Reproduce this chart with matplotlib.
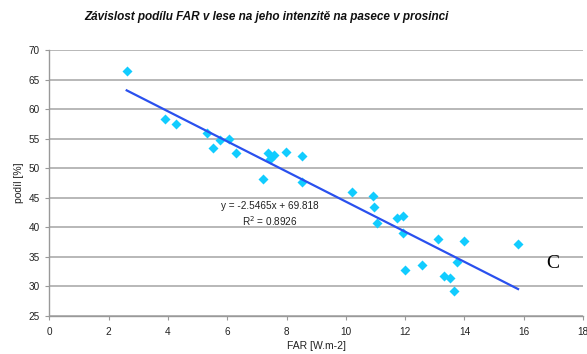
import matplotlib
matplotlib.use("Agg")
import matplotlib.pyplot as plt
import numpy as np

far = [2.61, 3.91, 4.27, 5.32, 5.53, 5.75, 6.07, 6.28, 7.2, 7.36, 7.44, 7.58,
       7.98, 8.51, 8.51, 10.2, 10.91, 10.95, 11.04, 11.74, 11.94, 11.92, 11.99,
       12.58, 13.11, 13.3, 13.53, 13.64, 13.75, 14.0, 15.81]
podil = [66.5, 58.3, 57.4, 56.0, 53.4, 54.7, 54.9, 52.6, 48.1, 52.5, 51.5, 52.3,
         52.7, 52.1, 47.7, 46.0, 45.3, 43.4, 40.8, 41.6, 42.0, 39.1, 32.8,
         33.6, 38.0, 31.7, 31.5, 29.3, 34.1, 37.7, 37.1]

slope, intercept = -2.5465, 69.818
x_ticks = [0, 2, 4, 6, 8, 10, 12, 14, 16, 18]
y_ticks = [25, 30, 35, 40, 45, 50, 55, 60, 65, 70]

plt.rcParams['font.family'] = ['Liberation Sans', 'DejaVu Sans']

fig = plt.figure(figsize=(5.87, 3.54), dpi=100)
ax = fig.add_axes([49.3 / 587, 1 - 316 / 354, (583 - 49.3) / 587, (316 - 50) / 354])

ax.set_xlim(0, 18)
ax.set_ylim(25, 70)
ax.set_xticks(x_ticks)
ax.set_yticks(y_ticks)
ax.tick_params(labelsize=7.2, length=3, width=0.8, colors="#999999",
               labelcolor="#222222")
ax.tick_params(axis="y", pad=4)
ax.tick_params(axis="x", pad=5)

ax.yaxis.grid(True, color="#ababab", linewidth=1.2, zorder=0)
for s in ["top", "right"]:
    ax.spines[s].set_visible(False)
for s in ["left", "bottom"]:
    ax.spines[s].set_color("#999999")
    ax.spines[s].set_linewidth(1.0)

ax.scatter(far, podil, marker="D", s=26, color="#11ccff", linewidths=0, zorder=3)

xl = np.array([min(far), max(far)])
ax.plot(xl, slope * xl + intercept, color="#2a50ee", linewidth=1.6, zorder=4)

ax.text(7.45, 43.65, "y = -2.5465x + 69.818", fontsize=7.2, ha="center",
        va="center", color="#222222", zorder=5)
ax.text(7.45, 41.1, "R$^2$ = 0.8926", fontsize=7.2, ha="center", va="center",
        color="#222222", zorder=5)

ax.set_xlabel("FAR [W.m-2]", fontsize=7.5, color="#222222", labelpad=3)
ax.set_ylabel("podíl [%]", fontsize=7.5, color="#222222", labelpad=3)

fig.text(266 / 587, 1 - 17 / 354, "Závislost podílu FAR v lese na jeho intenzitě na pasece v prosinci",
         fontsize=8.5, fontweight="bold", style="italic", ha="center", va="center",
         color="#111111")
fig.text(553 / 587, 1 - 263 / 354, "C", fontsize=14, family="Liberation Serif",
         ha="center", va="center", color="black")

fig.savefig("out.png", dpi=100)
